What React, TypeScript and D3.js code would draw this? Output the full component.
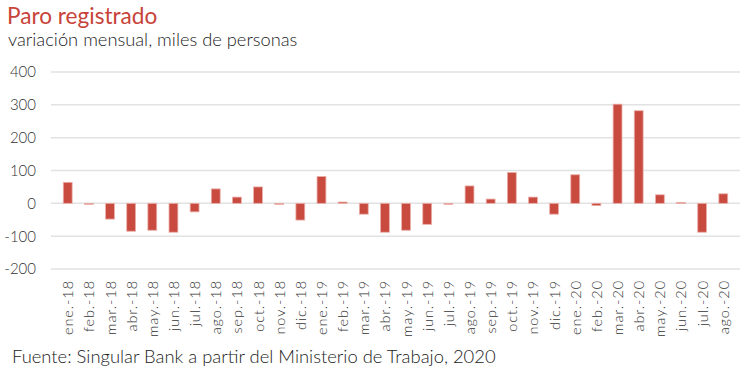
import React from "react";
import * as d3 from "d3";

const categories = [
  "ene.-18","feb.-18","mar.-18","abr.-18","may.-18","jun.-18","jul.-18","ago.-18","sep.-18","oct.-18","nov.-18","dic.-18",
  "ene.-19","feb.-19","mar.-19","abr.-19","may.-19","jun.-19","jul.-19","ago.-19","sep.-19","oct.-19","nov.-19","dic.-19",
  "ene.-20","feb.-20","mar.-20","abr.-20","may.-20","jun.-20","jul.-20","ago.-20",
];
const values = [
  64, -3, -48, -85, -82, -88, -26, 44, 19, 50, -3, -51,
  82, 4, -33, -88, -82, -64, -3, 53, 13, 94, 19, -33,
  87, -7, 302, 282, 26, 3, -88, 29,
];
const yTicks = [400, 300, 200, 100, 0, -100, -200];

const W = 749, H = 378;
const left = 51, right = 740, top = 72, bottom = 269;
const FONT = "Lato, 'Open Sans', sans-serif";

export default function App() {
  const x = d3.scaleBand<string>().domain(categories).range([left, right]).padding(0.58);
  const y = d3.scaleLinear().domain([-200, 400]).range([bottom, top]);
  return (
    <svg width={W} height={H} style={{ position: "absolute", left: 0, top: 0, background: "#fff" }} fontFamily={FONT}>
      <text x={7} y={24} fontSize={22.6} fill="#c8433a">Paro registrado</text>
      <text x={8} y={46} fontSize={18.3} fill="#222" fontWeight={300}>variación mensual, miles de personas</text>
      {yTicks.map((t) => (
        <g key={t}>
          <line x1={left} x2={right} y1={y(t)} y2={y(t)} stroke="#e2e2e2" strokeWidth={1.5} />
          <text x={36} y={y(t)} dy="0.36em" textAnchor="end" fontSize={15} fill="#333" fontWeight={300}>{t}</text>
        </g>
      ))}
      {values.map((v, i) => (
        <rect key={categories[i]} x={x(categories[i])} width={x.bandwidth()}
          y={y(Math.max(0, v))} height={Math.max(1, Math.abs(y(v) - y(0)))}
          fill="#c94a3f" stroke="#eab1ab" strokeWidth={0.8} />
      ))}
      {categories.map((c) => {
        const cx = (x(c) as number) + x.bandwidth() / 2;
        return (
          <text key={c} transform={`translate(${cx + 5.5},${280}) rotate(-90)`} textAnchor="end" fontSize={14.5} letterSpacing={0.9} fill="#333" fontWeight={300}>{c}</text>
        );
      })}
      <text x={12} y={363} fontSize={18.4} fill="#222" fontWeight={300}>Fuente: Singular Bank a partir del Ministerio de Trabajo, 2020</text>
    </svg>
  );
}
